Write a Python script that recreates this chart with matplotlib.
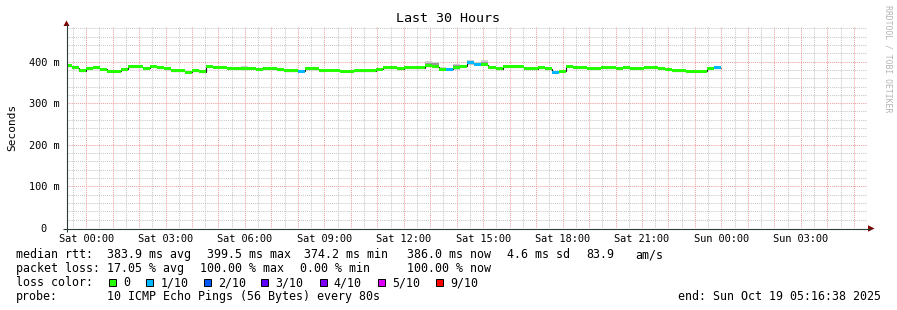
import numpy as np
import matplotlib
matplotlib.use("Agg")
import matplotlib.pyplot as plt
import matplotlib.transforms as mtransforms
from matplotlib.patches import Rectangle, Polygon

plt.rcParams['font.family'] = ['DejaVu Sans Mono', 'DejaVu Sans']

# ---------------- data ----------------
title = "Last 30 Hours"
y_label = "Seconds"
x_tick_hours = [0, 3, 6, 9, 12, 15, 18, 21, 24, 27]
x_tick_labels = ["Sat 00:00", "Sat 03:00", "Sat 06:00", "Sat 09:00", "Sat 12:00",
                 "Sat 15:00", "Sat 18:00", "Sat 21:00", "Sun 00:00", "Sun 03:00"]
y_ticks_ms = [0, 100, 200, 300, 400]
y_tick_labels = ["0", "100 m", "200 m", "300 m", "400 m"]

view_start_h = -(43 + 22 / 60) / 60      # Fri 23:16:38 relative to Sat 00:00
view_hours = 30
step_minutes = 16
first_step_h = -0.8                        # Fri 23:12

median_ms = [390.0, 385.6, 377.7, 384.0, 385.6, 381.0, 377.0, 377.0, 381.0, 387.0,
             387.0, 384.0, 387.0, 385.0, 382.5, 377.7, 377.7, 374.2, 378.0, 376.0,
             387.5, 386.5, 386.0, 384.0, 384.0, 383.0, 384.0, 381.6, 384.0, 384.0,
             380.8, 377.7, 377.7, 377.2, 382.4, 382.4, 377.7, 379.3, 379.3, 376.8,
             376.8, 378.4, 378.4, 378.4, 381.6, 385.6, 385.6, 383.2, 385.6, 385.6,
             385.6, 390.0, 388.0, 381.6, 381.2, 386.4, 389.0, 397.0, 394.0, 392.0,
             385.6, 383.2, 388.0, 388.0, 388.0, 382.4, 382.4, 385.0, 382.4, 374.5,
             376.8, 388.0, 385.6, 385.6, 384.0, 384.0, 385.6, 385.0, 384.0, 385.6,
             384.0, 384.0, 385.6, 385.6, 384.0, 381.6, 377.7, 377.7, 376.8, 376.8,
             376.8, 384.0, 385.0]
loss_tenths = [0] * 93
for k in (33, 54, 57, 58, 69, 92):
    loss_tenths[k] = 1

smoke_steps = [25, 51, 52, 53, 55, 57, 58, 59]
smoke_lo = [382.0, 389.0, 387.5, 377.5, 379.0, 392.0, 390.0, 389.0]
smoke_hi = [389.0, 401.0, 400.0, 386.0, 393.5, 403.0, 398.0, 403.5]
core_lo = [384.0, 391.5, 390.5, 379.0, 382.0, 394.5, 391.5, 392.0]
core_hi = [387.0, 397.5, 396.5, 384.0, 391.0, 400.0, 396.0, 398.0]

loss_labels = ["0", "1/10", "2/10", "3/10", "4/10", "5/10", "9/10"]
loss_colors = ["#26ff00", "#00b8ff", "#0059ff", "#5e00ff", "#7e00ff", "#dd00ff", "#ff0000"]
loss_color_by_tenths = {0: "#26ff00", 1: "#00b8ff", 2: "#0059ff", 3: "#5e00ff",
                        4: "#7e00ff", 5: "#dd00ff", 9: "#ff0000"}

rtt_items = ["383.9 ms avg", "399.5 ms max", "374.2 ms min", "386.0 ms now", "4.6 ms sd", "83.9", "am/s"]
loss_items = ["17.05 % avg", "100.00 % max", "0.00 % min", "100.00 % now"]
probe_text = "10 ICMP Echo Pings (56 Bytes) every 80s"
end_text = "end: Sun Oct 19 05:16:38 2025"
watermark = "RRDTOOL / TOBI OETIKER"

# ---------------- figure ----------------
W, H = 897, 310
fig = plt.figure(figsize=(W / 100, H / 100), dpi=100, facecolor="white")

ax_l, ax_r, ax_t, ax_b = 67, 867, 27, 228
ax = fig.add_axes([ax_l / W, (H - ax_b) / H, (ax_r - ax_l) / W, (ax_b - ax_t) / H])
ax.set_xlim(view_start_h, view_start_h + view_hours)
ax.set_ylim(0, 483)
for s in ax.spines.values():
    s.set_visible(False)

step_h = step_minutes / 60
n = len(median_ms)
starts = first_step_h + np.arange(n) * step_h
edges = np.append(starts, starts[-1] + step_h)
med = np.array(median_ms)

# smoke
sm_x = starts[smoke_steps]
ax.bar(sm_x, np.array(smoke_hi) - np.array(smoke_lo), bottom=smoke_lo, width=step_h,
       align="edge", color="#cfcfcf", linewidth=0, zorder=2)
ax.bar(sm_x, np.array(core_hi) - np.array(core_lo), bottom=core_lo, width=step_h,
       align="edge", color="#9a9a9a", linewidth=0, zorder=2.1)

# thin dark median line
ax.stairs(med, edges, baseline=None, color="#202020", linewidth=0.8, zorder=3)

# coloured median band
half = 3.6
cols = [loss_color_by_tenths[t] for t in loss_tenths]
ax.bar(starts, np.full(n, 2 * half), bottom=med - half, width=step_h, align="edge",
       color=cols, linewidth=0, zorder=4)

# grid
ax.set_xticks([h for h in range(0, 30)])
ax.set_xticklabels([x_tick_labels[x_tick_hours.index(h)] if h in x_tick_hours else ""
                    for h in range(0, 30)])
ax.set_xticks(np.arange(-0.5, 29.6, 1.0), minor=True)
ax.set_yticks(y_ticks_ms)
ax.set_yticklabels(y_tick_labels)
ax.set_yticks(np.arange(0, 481, 20), minor=True)
ax.set_axisbelow(True)
dot = (0, (1, 1))
ax.grid(which="minor", color="#c8c8c8", linestyle=dot, linewidth=0.75)
ax.grid(which="major", color="#f0a0a0", linestyle=dot, linewidth=0.75)
ax.tick_params(which="both", length=0)
ax.tick_params(axis="x", which="major", labelsize=7.4, pad=4.2, colors="black")
ax.tick_params(axis="y", which="major", labelsize=7.4, pad=5.0, colors="black")
# "0" label is right-padded like rrdtool's "0  "
zt = ax.yaxis.get_major_ticks()[0]
zt.label1.set_transform(zt.label1.get_transform() +
                        mtransforms.ScaledTranslation(-13.3 / 100, 0, fig.dpi_scale_trans))

# ---------------- overlay (pixel coordinates) ----------------
ov = fig.add_axes([0, 0, 1, 1])
ov.set_xlim(0, W)
ov.set_ylim(H, 0)
ov.axis("off")

axis_col = "#2c3c38"
ov.plot([63, 871], [228.5, 228.5], color=axis_col, linewidth=0.8, solid_capstyle="butt")
ov.plot([66.5, 66.5], [232, 24], color=axis_col, linewidth=0.8, solid_capstyle="butt")
ov.add_patch(Polygon([[63.5, 26], [69.5, 26], [66.5, 20.5]], closed=True, color="#7f0000", lw=0))
ov.add_patch(Polygon([[868, 225.3], [868, 231.7], [874.5, 228.5]], closed=True, color="#7f0000", lw=0))

ov.text(448.5, 19, title, ha="center", va="center", fontsize=9.6, color="black")
ov.text(12, 127, y_label, ha="center", va="center", rotation=90, fontsize=8.0, color="black")
ov.text(888, 59, watermark, ha="center", va="center", rotation=270, fontsize=5.9, color="#b4b4b4")

fs = 8.4
base = [258.2, 272.2, 286.2, 300.2]
ov.text(16, base[0], "median rtt:", fontsize=fs, va="baseline")
for xp, t in zip([107.3, 207.3, 304, 406.7, 507.3, 586, 635], rtt_items):
    ov.text(xp, base[0], t, fontsize=fs, va="baseline")
ov.text(16, base[1], "packet loss:", fontsize=fs, va="baseline")
for xp, t in zip([107.3, 200, 300, 407.3], loss_items):
    ov.text(xp, base[1], t, fontsize=fs, va="baseline")
ov.text(16, base[2], "loss color:", fontsize=fs, va="baseline")
box_x = [108.5, 146, 203.5, 261, 319.5, 377.5, 436]
for bx, lab, c in zip(box_x, loss_labels, loss_colors):
    ov.add_patch(Rectangle((bx, 278.5), 7, 7, facecolor=c, edgecolor="black", linewidth=0.7))
    ov.text(bx + 14.3, base[2], lab, fontsize=fs, va="baseline")
ov.text(16, base[3], "probe:", fontsize=fs, va="baseline")
ov.text(107.3, base[3], probe_text, fontsize=fs, va="baseline")
ov.text(881, base[3], end_text, fontsize=fs, va="baseline", ha="right")

fig.savefig("out.png", dpi=100, facecolor="white")
